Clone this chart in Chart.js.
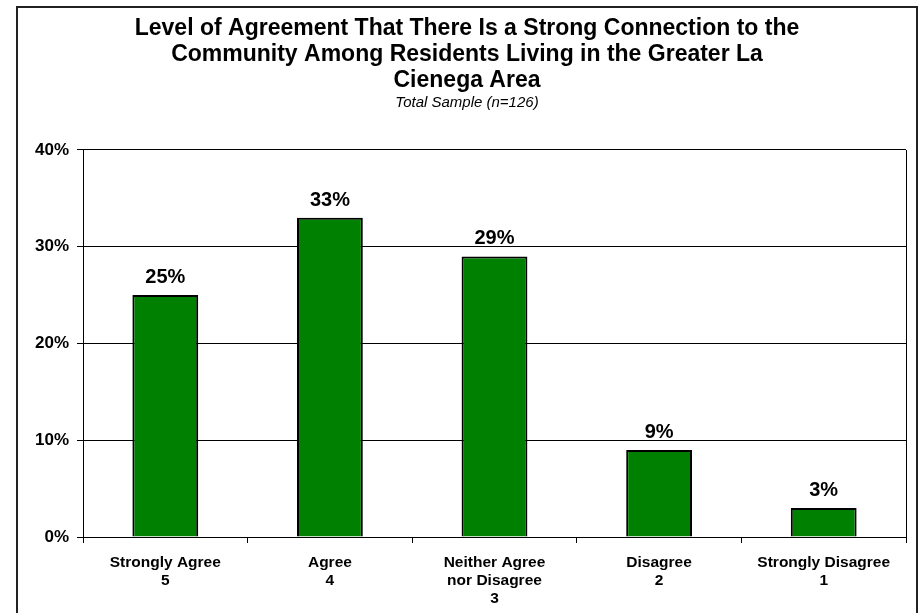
<!DOCTYPE html>
<html>
<head>
<meta charset="utf-8">
<script src="https://cdn.jsdelivr.net/npm/chart.js@4/dist/chart.umd.min.js"></script>
<style>
  html, body { margin: 0; padding: 0; background: #fff; }
  #wrap { width: 920px; height: 613px; }
</style>
</head>
<body>
<div id="wrap"><canvas id="agreeChart"></canvas></div>
<script>
// ─── Data ─────────────────────────────────────────────────
const categories = [
  ['Strongly Agree', '5'],
  ['Agree', '4'],
  ['Neither Agree', 'nor Disagree', '3'],
  ['Disagree', '2'],
  ['Strongly Disagree', '1'],
];
const shares = [25, 33, 29, 9, 3];
const yTicks = [0, 10, 20, 30, 40];

const titleLines = [
  'Level of Agreement That There Is a Strong Connection to the',
  'Community Among Residents Living in the Greater La',
  'Cienega Area',
];
const subtitleText = 'Total Sample (n=126)';

const FONT = "'Liberation Sans', Arial, sans-serif";

// ─── Plugins ──────────────────────────────────────────────
// outer frame + right border of the plot
const framePlugin = {
  id: 'frame',
  beforeDraw(chart) {
    const c = chart.ctx;
    c.save();
    c.fillStyle = '#fff';
    c.fillRect(0, 0, chart.width, chart.height);
    c.strokeStyle = '#222';
    c.lineWidth = 2;
    c.strokeRect(17, 7, 900, 640);
    c.restore();
  },
  afterDraw(chart) {
    const a = chart.chartArea;
    const c = chart.ctx;
    c.save();
    c.strokeStyle = '#000';
    c.lineWidth = 1;
    c.beginPath();
    c.moveTo(Math.round(a.right) + 0.5, a.top);
    c.lineTo(Math.round(a.right) + 0.5, a.bottom);
    c.stroke();
    c.restore();
  }
};

// value labels over the bars
const valueLabels = {
  id: 'valueLabels',
  afterDatasetsDraw(chart) {
    const c = chart.ctx;
    const meta = chart.getDatasetMeta(0);
    c.save();
    c.font = `bold 20px ${FONT}`;
    c.fillStyle = '#000';
    c.textAlign = 'center';
    c.textBaseline = 'alphabetic';
    meta.data.forEach((bar, i) => {
      c.fillText(shares[i] + '%', bar.x, bar.y - 12);
    });
    c.restore();
  }
};

new Chart(document.getElementById('agreeChart'), {
  type: 'bar',
  data: {
    labels: categories,
    datasets: [{
      data: shares,
      backgroundColor: '#008000',
      borderColor: '#000',
      borderWidth: 2,
      categoryPercentage: 1,
      barPercentage: 0.4,
    }],
  },
  options: {
    responsive: true,
    maintainAspectRatio: false,
    animation: false,
    layout: { padding: { top: 0, left: 28, right: 14, bottom: 0 } },
    plugins: {
      legend: { display: false },
      tooltip: { enabled: false },
      title: {
        display: true,
        text: titleLines,
        color: '#000',
        font: { family: FONT, size: 23, weight: 'bold', lineHeight: 1.13 },
        padding: { top: 16, bottom: 0 },
      },
      subtitle: {
        display: true,
        text: subtitleText,
        color: '#000',
        font: { family: FONT, size: 15, style: 'italic', lineHeight: 1.2 },
        padding: { top: 0, bottom: 38 },
      },
    },
    scales: {
      x: {
        grid: { offset: true, drawOnChartArea: false, color: '#000', tickLength: 6 },
        border: { color: '#000', width: 1 },
        ticks: {
          color: '#000',
          font: { family: FONT, size: 15.5, weight: 'bold', lineHeight: 1.15 },
          padding: 11,
          maxRotation: 0,
          autoSkip: false,
        },
        afterFit: s => { s.height = 76; },
      },
      y: {
        min: 0,
        max: 40,
        afterBuildTicks: s => { s.ticks = yTicks.map(v => ({ value: v })); },
        grid: { color: '#000', lineWidth: 1, tickLength: 6 },
        border: { color: '#000', width: 1 },
        ticks: {
          color: '#000',
          font: { family: FONT, size: 17, weight: 'bold' },
          padding: 8,
          callback: v => v + '%',
        },
        afterFit: s => { s.width = 55; },
      },
    },
  },
  plugins: [framePlugin, valueLabels],
});
</script>
</body>
</html>
